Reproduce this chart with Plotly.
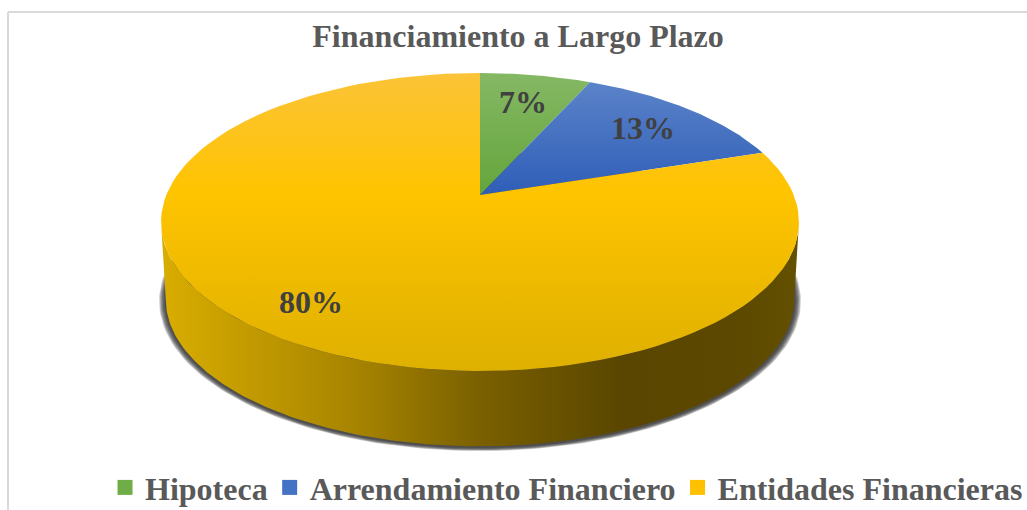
import numpy as np
import plotly.graph_objects as go

labels = ["Hipoteca", "Arrendamiento Financiero", "Entidades Financieras"]
shares = [6.7, 13.3, 80.0]
percent_text = ["7%", "13%", "80%"]
colors = ["#70ad47", "#4472c4", "#ffc000"]
# fillgradient runs bottom to top here because the y axis is flipped
top_fills = [
    [[0, "#64a53c"], [1, "#85b864"]],
    [[0, "#2f5eb8"], [1, "#5b83c9"]],
    [[0, "#deb000"], [0.6, "#ffc400"], [1, "#fbc338"]],
]
side_scale = [[0, "#d9ad00"], [0.3, "#a88500"], [0.5, "#7a6000"], [0.72, "#5a4600"], [0.9, "#5c4800"], [1, "#635000"]]

# pixel-like geometry of the tilted disc
CX, CY = 480, 195
RX, RY, PERSP = 313.7, 144.1, 0.181
DEPTH = 78
RIM_GROW = 0.985


def project(theta, drop=0.0, grow=1.0):
    # theta runs clockwise from twelve o'clock
    u, v = np.sin(theta), np.cos(theta)
    den = 1 + PERSP * v
    return CX + grow * RX * u / den, CY - grow * RY * v / den + drop


def wedge(start, stop):
    t = np.linspace(start, stop, 120)
    x, y = project(t)
    return np.r_[CX, x, CX], np.r_[CY, y, CY]


fig = go.Figure()

# soft shadow under the disc
t_all = np.linspace(0, 2 * np.pi, 240)
for grow in [1.006, 1.003, 1.0, 0.997, 0.994, 0.991, 0.988]:
    sx, sy = project(t_all, DEPTH + 1, grow)
    fig.add_trace(go.Scatter(x=sx, y=sy, mode="lines", fill="toself", fillcolor="rgba(50,50,50,0.25)",
                             line=dict(width=0), hoverinfo="skip", showlegend=False))

# rim: front of the top edge joined to the same edge moved down
edge = np.arccos(-PERSP)
t_front = np.linspace(edge, 2 * np.pi - edge, 200)
fx, fy = project(t_front)
bx, by = project(t_front, DEPTH, RIM_GROW)
fig.add_trace(go.Scatter(
    x=np.r_[fx, bx[::-1], fx[0]], y=np.r_[fy, by[::-1], fy[0]],
    mode="lines", fill="toself", line=dict(width=0), hoverinfo="skip", showlegend=False,
    fillgradient=dict(type="horizontal", colorscale=side_scale),
))

# top face
angles = np.cumsum([0] + shares) / 100 * 2 * np.pi
for i, name in enumerate(labels):
    wx, wy = wedge(angles[i], angles[i + 1])
    fig.add_trace(go.Scatter(x=wx, y=wy, mode="lines", fill="toself", line=dict(width=0), name=name,
                             fillgradient=dict(type="vertical", colorscale=top_fills[i]),
                             hovertemplate=name + ": " + percent_text[i] + "<extra></extra>", showlegend=False))
    fig.add_trace(go.Scatter(x=[None], y=[None], mode="markers", name=name,
                             marker=dict(symbol="square", size=15, color=colors[i])))

# percent labels, placed from each slice's mid angle
label_r = [0.745, 0.765, 0.81]
mids = (angles[:-1] + angles[1:]) / 2
for i, txt in enumerate(percent_text):
    u, v = np.sin(mids[i]), np.cos(mids[i])
    den = 1 + PERSP * v * label_r[i]
    fig.add_annotation(x=CX + RX * label_r[i] * u / den, y=CY - RY * label_r[i] * v / den, text=txt, showarrow=False,
                       font=dict(family="Liberation Serif", size=32, color="#404040", weight="bold"))

fig.add_shape(type="line", x0=8, y0=12, x1=1027, y1=12, line=dict(color="#d9d9d9", width=2))
fig.add_shape(type="line", x0=8, y0=12, x1=8, y1=510, line=dict(color="#d9d9d9", width=2))

fig.update_layout(
    width=1027, height=510,
    margin=dict(l=0, r=0, t=0, b=0, autoexpand=False),
    paper_bgcolor="white", plot_bgcolor="white",
    title=dict(text="<b>Financiamiento a Largo Plazo</b>", x=0.5044, xanchor="center", y=0.93, yanchor="middle",
               font=dict(family="Liberation Serif", size=32, color="#595959")),
    legend=dict(orientation="h", x=1.001, xanchor="right", y=-0.01, yanchor="bottom", indentation=-3,
                font=dict(family="Liberation Serif", size=32, color="#595959", weight="bold"),
                bgcolor="rgba(0,0,0,0)"),
)
fig.update_xaxes(range=[0, 1027], visible=False)
fig.update_yaxes(range=[510, 0], visible=False)

# browser default body margin would push the chart 8px in
fig.write_html("out.html", config=dict(displayModeBar=False),
               post_script="document.body.style.margin='0';document.documentElement.style.overflow='hidden';")
